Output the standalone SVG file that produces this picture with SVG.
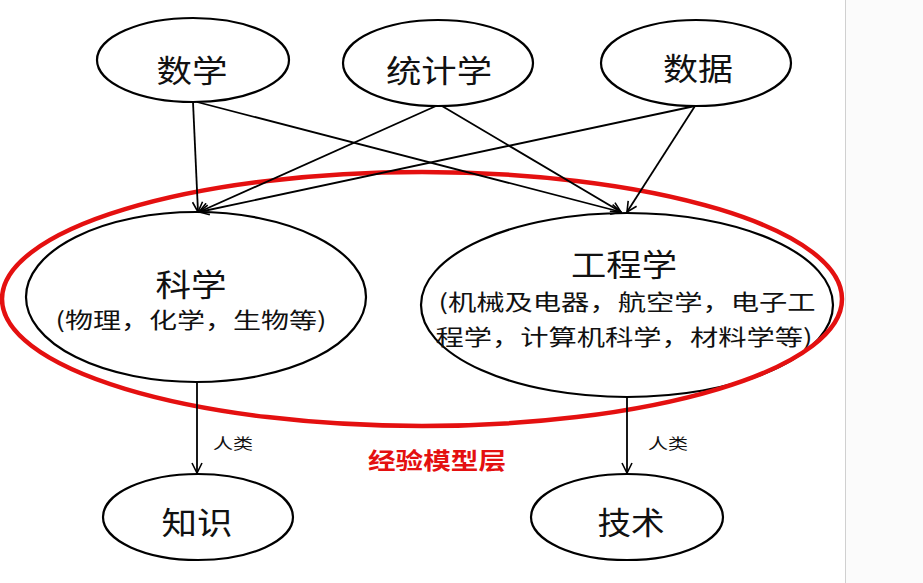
<svg xmlns="http://www.w3.org/2000/svg" width="923" height="583" viewBox="0 0 923 583">
<style>
.node{fill:#fff;stroke:#000;stroke-width:2.2}
.t{font-family:"Noto Sans CJK SC","Noto Sans",sans-serif;fill:#111;text-anchor:middle;dominant-baseline:central}
.big{font-size:31px}
.mid{font-size:22px}
.small{font-size:15px}
.edge{fill:none;stroke:#000;stroke-width:1.8;marker-end:url(#arr)}
</style>
<defs>
<marker id="arr" viewBox="0 0 12 12" refX="11" refY="6" markerWidth="12" markerHeight="12" markerUnits="userSpaceOnUse" orient="auto">
<path d="M1,1 L11,6 L1,11" fill="none" stroke="#000" stroke-width="1.6"/>
</marker>
</defs>
<rect x="0" y="0" width="923" height="583" fill="#fff"/>
<rect x="845" y="0" width="78" height="583" fill="#fbfbfb"/>
<line x1="845.5" y1="0" x2="845.5" y2="583" stroke="#d0d0d0" stroke-width="1"/>

<g id="n-shuxue"><ellipse class="node" cx="193" cy="60" rx="96" ry="42"/><text class="t big" x="192" y="68" textLength="71" lengthAdjust="spacingAndGlyphs">数学</text></g>
<g id="n-tongji"><ellipse class="node" cx="438" cy="63" rx="95" ry="43"/><text class="t big" x="439" y="68" textLength="106" lengthAdjust="spacingAndGlyphs">统计学</text></g>
<g id="n-shuju"><ellipse class="node" cx="696" cy="63" rx="95" ry="43"/><text class="t big" x="698" y="66" textLength="70" lengthAdjust="spacingAndGlyphs">数据</text></g>

<g id="n-kexue"><ellipse class="node" cx="196" cy="297" rx="170" ry="85"/>
<text class="t big" x="191" y="282" textLength="71" lengthAdjust="spacingAndGlyphs">科学</text>
<text class="t mid" x="191" y="318" textLength="271" lengthAdjust="spacingAndGlyphs">(物理，化学，生物等)</text></g>

<g id="n-gongcheng"><ellipse class="node" cx="627" cy="305" rx="206" ry="92"/>
<text class="t big" x="624" y="262" textLength="106" lengthAdjust="spacingAndGlyphs">工程学</text>
<text class="t mid" x="627" y="300" textLength="377" lengthAdjust="spacingAndGlyphs">(机械及电器，航空学，电子工</text>
<text class="t mid" x="624" y="335" textLength="377" lengthAdjust="spacingAndGlyphs">程学，计算机科学，材料学等)</text></g>

<g id="n-zhishi"><ellipse class="node" cx="198" cy="517" rx="95" ry="43"/><text class="t big" x="197" y="520" textLength="71" lengthAdjust="spacingAndGlyphs">知识</text></g>
<g id="n-jishu"><ellipse class="node" cx="627" cy="517" rx="96" ry="43"/><text class="t big" x="631" y="520" textLength="67" lengthAdjust="spacingAndGlyphs">技术</text></g>

<g id="layer">
<ellipse cx="422" cy="299" rx="420" ry="127" fill="none" stroke="#e41010" stroke-width="4.5"/>
<text class="t" x="437" y="459" font-size="23" font-weight="bold" fill="#e41010" style="fill:#e41010" textLength="138" lengthAdjust="spacingAndGlyphs">经验模型层</text>
</g>

<g id="connectors">
<line class="edge" x1="193" y1="102" x2="198" y2="212"/>
<line class="edge" x1="197" y1="102" x2="621" y2="212"/>
<line class="edge" x1="436" y1="106" x2="199" y2="212"/>
<line class="edge" x1="442" y1="106" x2="621" y2="212"/>
<line class="edge" x1="695" y1="106" x2="199" y2="212"/>
<line class="edge" x1="695" y1="106" x2="627" y2="212"/>
<line class="edge" x1="197" y1="382" x2="197" y2="473"/>
<line class="edge" x1="627" y1="398" x2="627" y2="473"/>
<text class="t small" x="233" y="442" textLength="40" lengthAdjust="spacingAndGlyphs">人类</text>
<text class="t small" x="668" y="442" textLength="40" lengthAdjust="spacingAndGlyphs">人类</text>
</g>
</svg>
